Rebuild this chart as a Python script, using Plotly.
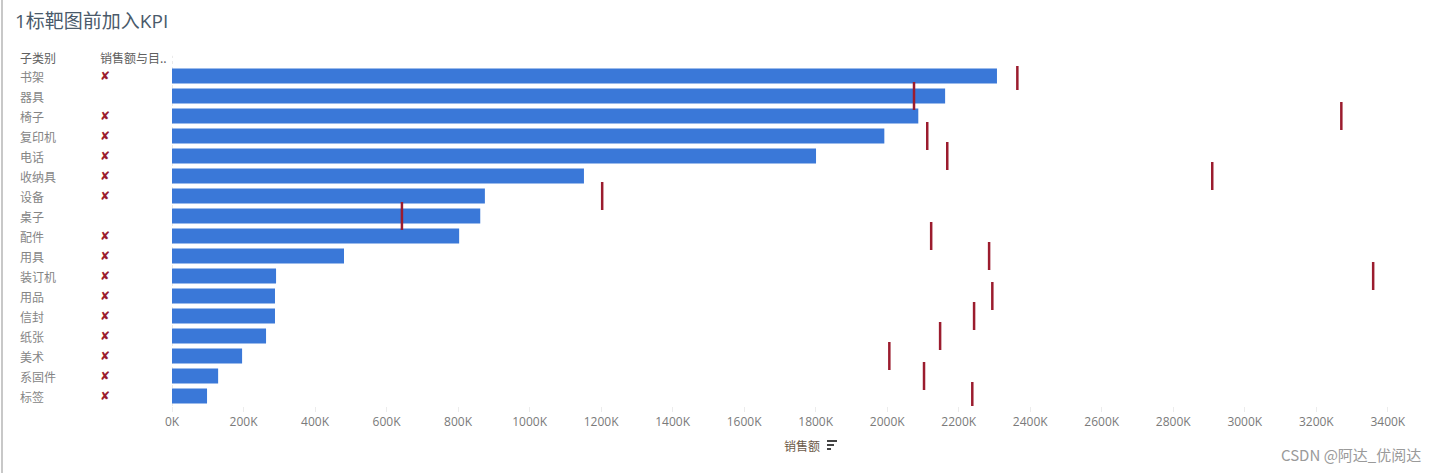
import plotly.graph_objects as go

categories = ["书架", "器具", "椅子", "复印机", "电话", "收纳具", "设备", "桌子", "配件",
              "用具", "装订机", "用品", "信封", "纸张", "美术", "系固件", "标签"]
sales = [2307000, 2162000, 2087000, 1992000, 1801000, 1152000, 875000, 862000, 803000,
         481000, 291000, 288000, 288000, 263000, 196000, 129000, 98000]
targets = [2364000, 2075000, 3270000, 2112000, 2168000, 2909000, 1203000, 643000, 2123000,
           2285000, 3359000, 2294000, 2243000, 2148000, 2006000, 2103000, 2238000]
tick_vals = [0, 200000, 400000, 600000, 800000, 1000000, 1200000, 1400000, 1600000,
             1800000, 2000000, 2200000, 2400000, 2600000, 2800000, 3000000, 3200000, 3400000]
tick_text = ["0K", "200K", "400K", "600K", "800K", "1000K", "1200K", "1400K", "1600K",
             "1800K", "2000K", "2200K", "2400K", "2600K", "2800K", "3000K", "3200K", "3400K"]

W, H = 1438, 473
L, R, T, B = 172, 18, 66, 67
PW = W - L - R
PH = H - T - B

def px(x):
    return (x - L) / PW

def py(y):
    return (H - B - y) / PH

FONT = "Noto Sans CJK SC"

fig = go.Figure()
fig.add_trace(go.Bar(
    x=sales, y=categories, orientation="h",
    marker=dict(color="#3a78d8", line=dict(width=0)),
    width=0.74, hoverinfo="x+y", showlegend=False,
))
fig.add_trace(go.Scatter(
    x=targets, y=categories, mode="markers",
    marker=dict(symbol="line-ns", size=20, line=dict(color="#9b1c2e", width=2.5)),
    showlegend=False,
))

annotations = []
# table headers
annotations.append(dict(text="子类别", x=px(18), y=py(57), xref="paper", yref="paper",
                        xanchor="left", yanchor="middle", showarrow=False,
                        font=dict(family=FONT, size=12, color="#606060")))
annotations.append(dict(text="销售额与目..", x=px(98), y=py(57), xref="paper", yref="paper",
                        xanchor="left", yanchor="middle", showarrow=False,
                        font=dict(family=FONT, size=12, color="#606060")))
for c, s, t in zip(categories, sales, targets):
    annotations.append(dict(text=c, x=px(18), y=c, xref="paper", yref="y",
                            xanchor="left", yanchor="middle", showarrow=False,
                            font=dict(family=FONT, size=12, color="#858585")))
    if s < t:
        annotations.append(dict(text="✘", x=px(98), y=c, xref="paper", yref="y",
                                xanchor="left", yanchor="middle", showarrow=False,
                                font=dict(family="DejaVu Sans", size=12, color="#9b1c2e")))

# title
annotations.append(dict(text="1标靶图前加入KPI", x=px(13), y=py(21), xref="paper", yref="paper",
                        xanchor="left", yanchor="middle", showarrow=False,
                        font=dict(family="Open Sans, " + FONT, size=19, color="#4a5a6a")))
# axis title
annotations.append(dict(text="销售额", x=px(822), y=py(445), xref="paper", yref="paper",
                        xanchor="right", yanchor="middle", showarrow=False,
                        font=dict(family=FONT, size=12, color="#6b5a48")))
# watermark text
annotations.append(dict(text="CSDN @阿达_优阅达", x=px(1423), y=py(454), xref="paper", yref="paper",
                        xanchor="right", yanchor="middle", showarrow=False,
                        font=dict(family=FONT, size=15, color="#9a9a9a")))

shapes = []
# sort icon
for i, w in enumerate([10, 7, 4]):
    yy = 441 + i * 4
    shapes.append(dict(type="line", xref="paper", yref="paper",
                       x0=px(827), x1=px(827 + w), y0=py(yy), y1=py(yy),
                       line=dict(color="#444444", width=2)))
# dotted zero line
shapes.append(dict(type="line", xref="x", yref="paper", x0=0, x1=0, y0=0, y1=1.03,
                   line=dict(color="#d6d6d6", width=1, dash="dot"), layer="below"))
# left border
shapes.append(dict(type="line", xref="paper", yref="paper", x0=px(2), x1=px(2),
                   y0=py(0), y1=py(473), line=dict(color="#c8c8c8", width=2)))

fig.update_layout(
    width=W, height=H,
    margin=dict(l=L, r=R, t=T, b=B),
    paper_bgcolor="white", plot_bgcolor="white",
    bargap=0.26,
    xaxis=dict(range=[0, 3490000], tickvals=tick_vals, ticktext=tick_text,
               showgrid=False, zeroline=False, showline=False,
               ticks="outside", ticklen=5, tickcolor="#ececec",
               tickfont=dict(family="Open Sans, " + FONT, size=12, color="#7a7a7a")),
    yaxis=dict(categoryorder="array", categoryarray=categories,
               range=[len(categories) - 0.5, -0.5], autorange=False,
               showticklabels=False, showgrid=False, zeroline=False, showline=False, ticks=""),
    annotations=annotations,
    shapes=shapes,
)

fig.write_html("out.html")
